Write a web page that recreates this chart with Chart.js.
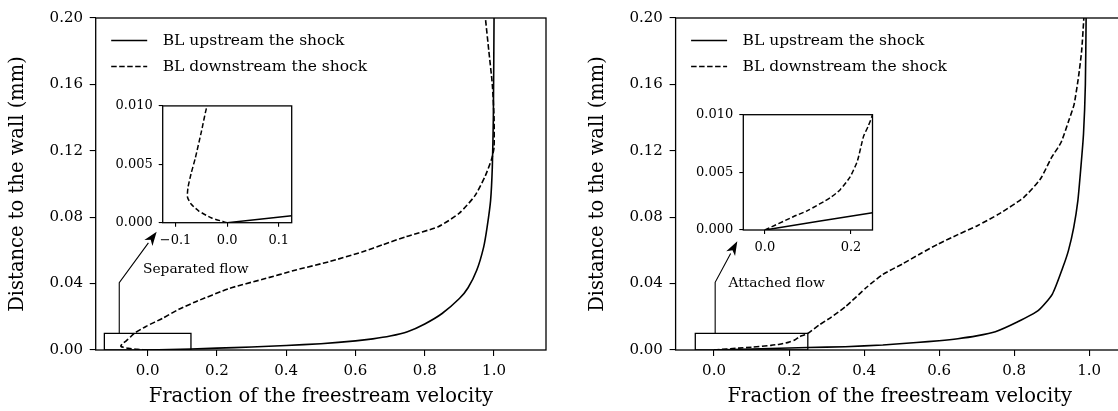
<!DOCTYPE html>
<html>
<head>
<meta charset="utf-8">
<script src="https://cdn.jsdelivr.net/npm/chart.js@4.4.0/dist/chart.umd.min.js"></script>
<style>
  html, body { margin: 0; padding: 0; background: #fff; overflow: hidden; width: 1118px; height: 411px; }
  .box { position: absolute; }
</style>
</head>
<body>
<div class="box" style="left:0;top:0;width:560px;height:411px"><canvas id="mainLeft"></canvas></div>
<div class="box" style="left:560px;top:0;width:600px;height:411px"><canvas id="mainRight"></canvas></div>
<div class="box" style="left:100px;top:92px;width:200px;height:165px"><canvas id="insetLeft"></canvas></div>
<div class="box" style="left:680px;top:100px;width:200px;height:165px"><canvas id="insetRight"></canvas></div>
<script>
//data

//left panel : separated flow
const sepUpX = [0, 0.125, 0.2, 0.3, 0.4, 0.5, 0.6, 0.65, 0.7, 0.75, 0.8, 0.85, 0.9, 0.925, 0.95, 0.97, 0.98, 0.99, 0.995, 0.998, 1.0];
const sepUpY = [0, 0.0006, 0.0011, 0.0018, 0.0027, 0.0038, 0.0055, 0.0067, 0.0084, 0.011, 0.0157, 0.022, 0.031, 0.0375, 0.048, 0.062, 0.074, 0.09, 0.11, 0.14, 0.2];
const sepDownX = [0, -0.03, -0.055, -0.07, -0.077, -0.076, -0.07, -0.062, -0.05, -0.039, -0.005, 0.043, 0.09, 0.139, 0.236, 0.332, 0.428, 0.524, 0.621, 0.68, 0.746, 0.839, 0.9, 0.945, 0.975, 0.993, 1.0, 1.0, 0.995, 0.985, 0.975];
const sepDownY = [0, 0.0004, 0.001, 0.0016, 0.0022, 0.003, 0.0042, 0.0055, 0.0078, 0.010, 0.0142, 0.0191, 0.0245, 0.0291, 0.0371, 0.0426, 0.0482, 0.0532, 0.0592, 0.0635, 0.0683, 0.0743, 0.0825, 0.093, 0.105, 0.115, 0.122, 0.14, 0.16, 0.18, 0.2];

//right panel : attached flow
const attUpX = [0, 0.25, 0.35, 0.45, 0.54, 0.6, 0.65, 0.7, 0.75, 0.807, 0.864, 0.902, 0.93, 0.945, 0.959, 0.97, 0.978, 0.985, 0.99, 0.992];
const attUpY = [0, 0.0015, 0.002, 0.003, 0.0045, 0.0056, 0.0068, 0.0085, 0.011, 0.0167, 0.0237, 0.0337, 0.0498, 0.06, 0.0739, 0.09, 0.11, 0.13, 0.16, 0.2];
const attDownX = [0, 0.066, 0.1, 0.152, 0.175, 0.198, 0.215, 0.229, 0.24, 0.25, 0.28, 0.312, 0.35, 0.407, 0.45, 0.502, 0.55, 0.598, 0.65, 0.702, 0.76, 0.826, 0.87, 0.9, 0.925, 0.947, 0.96, 0.972, 0.98, 0.986];
const attDownY = [0, 0.00115, 0.0017, 0.0028, 0.0035, 0.0046, 0.006, 0.0081, 0.009, 0.010, 0.015, 0.0197, 0.026, 0.0378, 0.0455, 0.0518, 0.058, 0.0639, 0.0695, 0.0749, 0.082, 0.092, 0.103, 0.116, 0.125, 0.139, 0.148, 0.165, 0.18, 0.2];

//zoom boxes and callouts (data units)
const sepBoxX = [-0.125, 0.125, 0.125, -0.125, -0.125];
const sepBoxY = [0, 0, 0.01, 0.01, 0];
const attBoxX = [-0.05, 0.25, 0.25, -0.05, -0.05];
const attBoxY = [0, 0, 0.01, 0.01, 0];
const sepLeader = [-0.082, 0.01, 0.0405, 0.026, 0.0713];   // x, from y, knee y, tip x, tip y
const attLeader = [0.003, 0.01, 0.0408, 0.062, 0.0655];
const sepLabel = ['Separated flow', 0.139, 0.0488];
const attLabel = ['Attached flow', 0.167, 0.0402];

//tick labels
const mainXTicks = [0, 0.2, 0.4, 0.6, 0.8, 1.0];
const mainYTicks = [0, 0.04, 0.08, 0.12, 0.16, 0.2];
const sepInsetXTicks = [-0.1, 0, 0.1];
const attInsetXTicks = [0, 0.2];
const insetYTicks = [0, 0.005, 0.01];

const seriesNames = ['BL upstream the shock', 'BL downstream the shock'];

const serif = "'DejaVu Serif', serif";
Chart.defaults.font.family = serif;
Chart.defaults.color = '#000';
Chart.defaults.animation = false;

function pts(xs, ys) {
    return xs.map((x, i) => ({ x: x, y: ys[i] }));
}
function fmt(v, d) {
    return (v < -1e-9 ? '\u2212' : '') + Math.abs(v).toFixed(d);
}

//draws the full box round the plot
const framePlugin = {
    id: 'frame',
    afterDatasetsDraw(chart) {
        const a = chart.chartArea, ctx = chart.ctx;
        ctx.save();
        ctx.strokeStyle = '#000';
        ctx.lineWidth = 1.3;
        ctx.strokeRect(a.left, a.top, a.right - a.left, a.bottom - a.top);
        ctx.restore();
    }
};

//legend inside the plot, upper left
const legendPlugin = {
    id: 'insideLegend',
    afterDraw(chart, args, opts) {
        if (!opts.show) return;
        const a = chart.chartArea, ctx = chart.ctx;
        ctx.save();
        let row = 0;
        chart.data.datasets.forEach(ds => {
            if (!ds.label) return;
            const x = a.left + 15.5;
            const y = a.top + 22.5 + row * 26;
            ctx.strokeStyle = '#000';
            ctx.lineWidth = ds.borderWidth;
            ctx.setLineDash(ds.borderDash || []);
            ctx.beginPath();
            ctx.moveTo(x, y);
            ctx.lineTo(x + 36, y);
            ctx.stroke();
            ctx.setLineDash([]);
            ctx.fillStyle = '#000';
            ctx.font = '15.5px ' + serif;
            ctx.textBaseline = 'middle';
            ctx.textAlign = 'left';
            ctx.fillText(ds.label, x + 51.5, y);
            row++;
        });
        ctx.restore();
    }
};

//leader line + arrow + label pointing at the inset
const calloutPlugin = {
    id: 'callout',
    afterDatasetsDraw(chart, args, opts) {
        if (!opts.leader) return;
        const sx = chart.scales.x, sy = chart.scales.y, ctx = chart.ctx;
        const L = opts.leader;
        const x0 = sx.getPixelForValue(L[0]), y0 = sy.getPixelForValue(L[1]);
        const yk = sy.getPixelForValue(L[2]);
        const tx = sx.getPixelForValue(L[3]), ty = sy.getPixelForValue(L[4]);
        const ang = Math.atan2(ty - yk, tx - x0);
        const head = 14, half = 5;
        const bx = tx - head * Math.cos(ang), by = ty - head * Math.sin(ang);
        ctx.save();
        ctx.strokeStyle = '#000';
        ctx.fillStyle = '#000';
        ctx.lineWidth = 1.1;
        ctx.beginPath();
        ctx.moveTo(x0, y0);
        ctx.lineTo(x0, yk);
        ctx.lineTo(bx, by);
        ctx.stroke();
        ctx.beginPath();
        ctx.moveTo(tx, ty);
        ctx.lineTo(bx - half * Math.sin(ang), by + half * Math.cos(ang));
        ctx.lineTo(tx - 0.72 * head * Math.cos(ang), ty - 0.72 * head * Math.sin(ang));
        ctx.lineTo(bx + half * Math.sin(ang), by - half * Math.cos(ang));
        ctx.closePath();
        ctx.fill();
        const lab = opts.label;
        ctx.font = '13.8px ' + serif;
        ctx.textAlign = 'center';
        ctx.textBaseline = 'middle';
        ctx.fillText(lab[0], sx.getPixelForValue(lab[1]), sy.getPixelForValue(lab[2]));
        ctx.restore();
    }
};

function axes(o) {
    return {
        x: {
            type: 'linear', min: o.xMin, max: o.xMax,
            afterBuildTicks: s => { s.ticks = o.xTicks.map(v => ({ value: v })); },
            afterFit: s => { s.height = o.xAxisHeight; },
            border: { display: false },
            grid: { drawOnChartArea: false, drawTicks: true, tickLength: o.tick, color: '#000', lineWidth: 1.1 },
            ticks: { font: { size: o.tickFont }, padding: o.tickPad, maxRotation: 0, autoSkip: false, callback: v => fmt(v, 1) },
            title: o.xTitle ? { display: true, text: o.xTitle, font: { size: 19.5 }, padding: { top: 0, bottom: 2.6 } } : { display: false }
        },
        y: {
            type: 'linear', min: o.yMin, max: o.yMax,
            afterBuildTicks: s => { s.ticks = o.yTicks.map(v => ({ value: v })); },
            afterFit: s => { s.width = o.yAxisWidth; },
            border: { display: false },
            grid: { drawOnChartArea: false, drawTicks: true, tickLength: o.tick, color: '#000', lineWidth: 1.1 },
            ticks: { font: { size: o.tickFont }, padding: o.yTickPad, autoSkip: false, callback: v => fmt(v, o.yDec) },
            title: o.yTitle ? { display: true, text: o.yTitle, font: { size: 19.5 }, padding: { top: o.yTitlePad, bottom: 0 } } : { display: false }
        }
    };
}

function curveSets(upX, upY, downX, downY, lw, dash, boxX, boxY) {
    const sets = [
        { label: seriesNames[0], data: pts(upX, upY), borderColor: '#000', borderWidth: lw, showLine: true, pointRadius: 0, tension: 0.2 },
        { label: seriesNames[1], data: pts(downX, downY), borderColor: '#000', borderWidth: lw, borderDash: dash, showLine: true, pointRadius: 0, tension: 0.2 }
    ];
    if (boxX) {
        sets.push({ data: pts(boxX, boxY), borderColor: '#000', borderWidth: 1.3, showLine: true, pointRadius: 0, tension: 0 });
    }
    return sets;
}

function makeChart(id, datasets, scaleOpts, padding, pluginOpts) {
    return new Chart(document.getElementById(id), {
        type: 'scatter',
        data: { datasets: datasets },
        options: {
            responsive: true,
            maintainAspectRatio: false,
            events: [],
            layout: { padding: padding },
            scales: axes(scaleOpts),
            plugins: Object.assign({ legend: { display: false }, tooltip: { enabled: false } }, pluginOpts)
        },
        plugins: [framePlugin, legendPlugin, calloutPlugin]
    });
}

//main charts
makeChart('mainLeft',
    curveSets(sepUpX, sepUpY, sepDownX, sepDownY, 1.6, [5.5, 2.5], sepBoxX, sepBoxY),
    { xMin: -0.15, xMax: 1.15, yMin: 0, yMax: 0.2, xTicks: mainXTicks, yTicks: mainYTicks, xAxisHeight: 61, yAxisWidth: 95.7,
      tick: 6, tickFont: 15, tickPad: 6, yTickPad: 6.7, yDec: 2,
      xTitle: 'Fraction of the freestream velocity', yTitle: 'Distance to the wall (mm)', yTitlePad: 6.3 },
    { top: 18, right: 14, left: 0, bottom: 0 },
    { insideLegend: { show: true }, callout: { leader: sepLeader, label: sepLabel } });

makeChart('mainRight',
    curveSets(attUpX, attUpY, attDownX, attDownY, 1.6, [5.5, 2.5], attBoxX, attBoxY),
    { xMin: -0.1025, xMax: 1.093, yMin: 0, yMax: 0.2, xTicks: mainXTicks, yTicks: mainYTicks, xAxisHeight: 61, yAxisWidth: 115.6,
      tick: 6, tickFont: 15, tickPad: 6, yTickPad: 6.7, yDec: 2,
      xTitle: 'Fraction of the freestream velocity', yTitle: 'Distance to the wall (mm)', yTitlePad: 26.3 },
    { top: 18, right: 36, left: 0, bottom: 0 },
    { insideLegend: { show: true }, callout: { leader: attLeader, label: attLabel } });

//insets (zoom on the wall region)
makeChart('insetLeft',
    curveSets(sepUpX, sepUpY, sepDownX, sepDownY, 1.5, [5, 2.5]),
    { xMin: -0.125, xMax: 0.125, yMin: 0, yMax: 0.01, xTicks: sepInsetXTicks, yTicks: insetYTicks, xAxisHeight: 34.3, yAxisWidth: 62.7,
      tick: 4, tickFont: 13, tickPad: 6, yTickPad: 6, yDec: 3 },
    { top: 13.9, right: 8.3, left: 0, bottom: 0 },
    {});

makeChart('insetRight',
    curveSets(attUpX, attUpY, attDownX, attDownY, 1.5, [5, 2.5]),
    { xMin: -0.05, xMax: 0.25, yMin: 0, yMax: 0.01, xTicks: attInsetXTicks, yTicks: insetYTicks, xAxisHeight: 35, yAxisWidth: 63.3,
      tick: 4, tickFont: 13, tickPad: 6, yTickPad: 6, yDec: 3 },
    { top: 14.7, right: 7.5, left: 0, bottom: 0 },
    {});
</script>
</body>
</html>
